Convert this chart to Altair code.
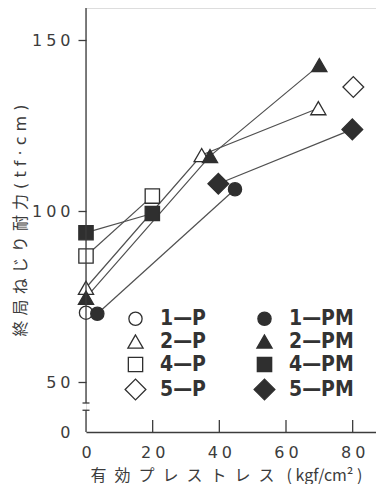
import altair as alt
import pandas as pd

# ---- data ----
series_names = ["1—P", "2—P", "4—P", "5—P", "1—PM", "2—PM", "4—PM", "5—PM"]
shapes = ["circle", "triangle-up", "square", "diamond", "circle", "triangle-up", "square", "diamond"]
fills = ["white", "white", "white", "white", "#2f2f2f", "#2f2f2f", "#2f2f2f", "#2f2f2f"]
strokes = ["#2f2f2f"] * 8
sizes = [175, 230, 205, 430, 175, 230, 205, 430]

x_1P = [0]
y_1P = [70.4]
x_1PM = [3.4, 44.7]
y_1PM = [70.1, 106.5]
x_2P = [0, 34.7, 69.7]
y_2P = [77.7, 116.5, 130.2]
x_2PM = [0, 37.2, 70.0]
y_2PM = [74.8, 116.2, 142.8]
x_4P = [0, 19.9]
y_4P = [87.0, 104.5]
x_4PM = [0, 19.9]
y_4PM = [93.8, 99.4]
x_5P = [80.2]
y_5P = [136.4]
x_5PM = [39.7, 79.9]
y_5PM = [108.1, 124.0]

x_ticks = [0, 20, 40, 60, 80]
y_ticks = [0, 50, 100, 150]
# broken y axis: lower piece and upper piece
axis_lower = [0, 33]
axis_upper = [44, 159.5]

data_by_series = {
    "1—P": (x_1P, y_1P), "1—PM": (x_1PM, y_1PM),
    "2—P": (x_2P, y_2P), "2—PM": (x_2PM, y_2PM),
    "4—P": (x_4P, y_4P), "4—PM": (x_4PM, y_4PM),
    "5—P": (x_5P, y_5P), "5—PM": (x_5PM, y_5PM),
}
rows = []
for name, (xv, yv) in data_by_series.items():
    for a, b in zip(xv, yv):
        rows.append({"series": name, "x": a, "y": b})
df = pd.DataFrame(rows)

TEXT = "#3c3c3c"
LINE = "#505050"
CJK = "Noto Sans CJK JP"
MIX = "DejaVu Sans, Noto Sans CJK JP"

x_scale = alt.Scale(domain=[0, 87.0], nice=False, zero=False)
y_scale = alt.Scale(domain=[0, 44, 159.5], range=[424, 395, 0], nice=False, zero=False)

spaced = "join(split(datum.label, ''), '\u2005')"

x_axis = alt.Axis(values=x_ticks, ticks=False, grid=False, domain=True,
                  domainColor=TEXT, domainWidth=1.3,
                  labelFont="DejaVu Sans", labelFontSize=16, labelColor=TEXT,
                  labelPadding=12, labelExpr=spaced, labelFlush=False,
                  title="有\u2002効\u2002プ\u2002レ\u2002ス\u2002ト\u2002レ\u2002ス\u2002\u2005( kgf/cm² )",
                  titleFont=CJK, titleFontSize=16, titleX=140,
                  titleFontWeight="normal", titleColor=TEXT, titlePadding=7)

y_axis = alt.Axis(values=y_ticks, grid=False, domain=False,
                  tickSize=8, tickWidth=1.3,
                  tickColor={"condition": {"test": "datum.value == 0", "value": "transparent"}, "value": TEXT},
                  labelFont="DejaVu Sans", labelFontSize=16, labelColor=TEXT,
                  labelPadding=8, labelExpr=spaced,
                  title="終 局 ね じ り 耐 力  ( t f · c m )",
                  titleFont=MIX, titleFontSize=16,
                  titleFontWeight="normal", titleColor=TEXT, titlePadding=3)

legend = alt.Legend(orient="none", legendX=38, legendY=300, columns=2, title=None,
                    labelFont="Liberation Sans Narrow, DejaVu Sans Condensed, Roboto Condensed, Liberation Sans",
                    labelFontSize=21, labelFontWeight="bold", labelColor="#333333",
                    labelOffset=13, columnPadding=45, rowPadding=1, padding=0,
                    symbolStrokeWidth=1.3, labelLimit=0)

base = alt.Chart(df)

lines = base.mark_line(color=LINE, strokeWidth=1.2).encode(
    x=alt.X("x:Q", scale=x_scale, axis=x_axis),
    y=alt.Y("y:Q", scale=y_scale, axis=y_axis),
    detail="series:N",
)

points = base.mark_point(filled=True, strokeWidth=1.3, opacity=1).encode(
    x=alt.X("x:Q", scale=x_scale),
    y=alt.Y("y:Q", scale=y_scale),
    shape=alt.Shape("series:N", scale=alt.Scale(domain=series_names, range=shapes), legend=legend),
    fill=alt.Fill("series:N", scale=alt.Scale(domain=series_names, range=fills), legend=legend),
    stroke=alt.Stroke("series:N", scale=alt.Scale(domain=series_names, range=strokes), legend=legend),
    size=alt.Size("series:N", scale=alt.Scale(type="ordinal", domain=series_names, range=sizes), legend=legend),
)

seg_df = pd.DataFrame({"y0": [axis_lower[0], axis_upper[0]], "y1": [axis_lower[1], axis_upper[1]]})
axis_line = alt.Chart(seg_df).mark_rule(color=TEXT, strokeWidth=1.3).encode(
    x=alt.value(0),
    y=alt.Y("y0:Q", scale=y_scale),
    y2="y1:Q",
)
cap_df = pd.DataFrame({"c": [axis_lower[1], axis_upper[0]]})
caps = alt.Chart(cap_df).mark_rule(color=TEXT, strokeWidth=1.3).encode(
    y=alt.Y("c:Q", scale=y_scale),
    x=alt.value(-3.5),
    x2=alt.value(3.5),
)
xt_df = pd.DataFrame({"t": x_ticks[1:]})
xticks = alt.Chart(xt_df).mark_rule(color=TEXT, strokeWidth=1.3).encode(
    x=alt.X("t:Q", scale=x_scale),
    y=alt.value(424),
    y2=alt.value(412),
)

chart = alt.layer(lines, points, axis_line, caps, xticks).properties(
    width=290, height=424,
    padding={"left": 78, "top": 0, "right": 0, "bottom": 52},
    autosize=alt.AutoSizeParams(type="none"),
).configure_view(stroke=None).configure(background="white")

chart.save("out.html", embed_options={"renderer": "svg", "actions": False})
